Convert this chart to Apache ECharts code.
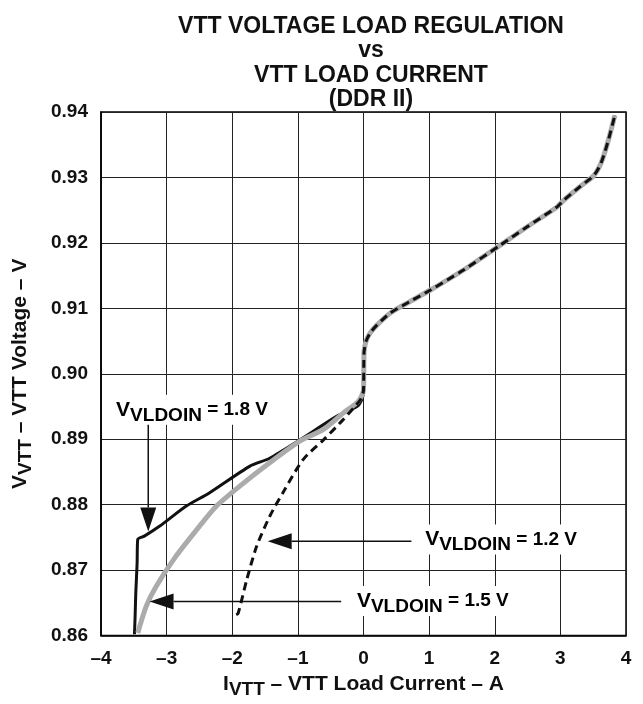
<!DOCTYPE html>
<html>
<head>
<meta charset="utf-8">
<script src="https://cdn.jsdelivr.net/npm/echarts@6/dist/echarts.min.js"></script>
<style>
  html, body { margin: 0; padding: 0; background: #fff; }
  #chart { width: 643px; height: 704px; }
</style>
</head>
<body>
<div id="chart"></div>
<script>
// values: load current (A) and VTT voltage (V)
// above 0 A the three supplies lie on the same trace
const rightCurrent = [0, 0.005, 0.01, 0.04, 0.1, 0.2, 0.41, 0.7, 1.02, 1.53, 2.09, 2.5, 2.95, 3.05, 3.3, 3.51, 3.62, 3.72, 3.83];
const rightVoltage = [0.8975, 0.902, 0.9035, 0.905, 0.9062, 0.9074, 0.9093, 0.911, 0.9128, 0.9159, 0.9197, 0.9225, 0.9255, 0.9265, 0.9286, 0.9303, 0.9322, 0.9353, 0.9395];

// VLDOIN = 1.8 V
const current18 = [-3.49, -3.48, -3.47, -3.45, -3.44, -3.34, -3.11, -2.7, -2.35, -1.73, -1.43, -0.97, -0.41, -0.1, -0.02];
const voltage18 = [0.8602, 0.863, 0.8665, 0.871, 0.8747, 0.8752, 0.8767, 0.8798, 0.8818, 0.8859, 0.8871, 0.8899, 0.8935, 0.895, 0.8962];

// VLDOIN = 1.5 V
const current15 = [-3.44, -3.31, -3.16, -2.86, -2.5, -2.24, -1.89, -1.43, -0.97, -0.61, -0.31, -0.08];
const voltage15 = [0.8604, 0.8645, 0.8675, 0.8721, 0.8767, 0.8798, 0.8828, 0.8864, 0.8897, 0.8915, 0.894, 0.8958];

// VLDOIN = 1.2 V
const current12 = [-1.94, -1.91, -1.78, -1.63, -1.43, -1.23, -0.92, -0.61, -0.31, -0.05];
const voltage12 = [0.8632, 0.8634, 0.8685, 0.8736, 0.8782, 0.8818, 0.8869, 0.8899, 0.893, 0.896];

const xTicks = [-4, -3, -2, -1, 0, 1, 2, 3, 4];
const xTickLabels = ['\u20134', '\u20133', '\u20132', '\u20131', '0', '1', '2', '3', '4'];
const yTicks = [0.86, 0.87, 0.88, 0.89, 0.90, 0.91, 0.92, 0.93, 0.94];
const yTickLabels = ['0.86', '0.87', '0.88', '0.89', '0.90', '0.91', '0.92', '0.93', '0.94'];

const supplyLabels = ['1.8 V', '1.2 V', '1.5 V'];

const FONT = '"Liberation Sans", Arial, sans-serif';

function pairs(xs, ys) {
  return xs.map((x, i) => [x, ys[i]]);
}
function tickText(ticks, labels, v) {
  let best = 0;
  ticks.forEach((t, i) => { if (Math.abs(t - v) < Math.abs(ticks[best] - v)) best = i; });
  return labels[best];
}
// V with a lowered subscript
function subRich(big, small) {
  return {
    m: { fontSize: big, fontWeight: 'bold', fontFamily: FONT, color: '#111', verticalAlign: 'middle' },
    s: { fontSize: small, fontWeight: 'bold', fontFamily: FONT, color: '#111', verticalAlign: 'middle', padding: [11, 0, 0, 0] },
    r: { fontSize: big, fontWeight: 'bold', fontFamily: FONT, color: '#111', verticalAlign: 'middle' },
    q: { fontSize: small, fontWeight: 'bold', fontFamily: FONT, color: '#111', verticalAlign: 'middle' }
  };
}

const chart = echarts.init(document.getElementById('chart'));

const option = {
  animation: false,
  backgroundColor: '#fff',
  title: {
    text: 'VTT VOLTAGE LOAD REGULATION\nvs\nVTT LOAD CURRENT\n(DDR II)',
    left: 366,
    textAlign: 'center',
    top: 9,
    textStyle: { fontSize: 23, fontWeight: 'bold', fontFamily: FONT, color: '#111', lineHeight: 24.5 }
  },
  grid: {
    left: 101, right: 17, top: 112, bottom: 68,
    show: true, borderColor: '#000', borderWidth: 1.5, backgroundColor: 'transparent'
  },
  xAxis: {
    type: 'value', min: -4, max: 4, interval: 1,
    name: '{m|I}{s|VTT}{r| \u2013 VTT Load Current \u2013 A}',
    nameLocation: 'middle', nameGap: 30,
    nameTextStyle: { rich: subRich(21, 19) },
    axisLine: { show: true, onZero: false, lineStyle: { color: '#000', width: 1.5 } },
    axisTick: { show: false },
    splitLine: { show: true, lineStyle: { color: '#222', width: 1 } },
    axisLabel: {
      margin: 14, fontSize: 19, fontWeight: 'bold', fontFamily: FONT, color: '#111',
      formatter: v => tickText(xTicks, xTickLabels, v)
    }
  },
  yAxis: {
    type: 'value', min: 0.86, max: 0.94, interval: 0.01,
    name: '{m|V}{s|VTT}{r| \u2013 VTT Voltage \u2013 V}',
    nameLocation: 'middle', nameGap: 66, nameRotate: 90,
    nameTextStyle: { rich: subRich(21, 19) },
    axisLine: { show: true, onZero: false, lineStyle: { color: '#000', width: 1.5 } },
    axisTick: { show: false },
    splitLine: { show: true, lineStyle: { color: '#222', width: 1 } },
    axisLabel: {
      margin: 13, fontSize: 19, fontWeight: 'bold', fontFamily: FONT, color: '#111',
      formatter: v => tickText(yTicks, yTickLabels, v)
    }
  },
  series: [
    {
      name: supplyLabels[0], type: 'line', symbol: 'none', z: 2, smooth: 0.25,
      data: pairs(current18.concat(rightCurrent), voltage18.concat(rightVoltage)),
      lineStyle: { color: '#111', width: 3 }
    },
    {
      name: supplyLabels[2], type: 'line', symbol: 'none', z: 3, smooth: 0.25,
      data: pairs(current15.concat(rightCurrent), voltage15.concat(rightVoltage)),
      lineStyle: { color: '#ababab', width: 5 }
    },
    {
      name: supplyLabels[1], type: 'line', symbol: 'none', z: 4, smooth: 0.25,
      data: pairs(current12.concat(rightCurrent), voltage12.concat(rightVoltage)),
      lineStyle: { color: '#111', width: 3, type: [8, 5] }
    }
  ]
};
chart.setOption(option);

// annotation layout, in axis units: where the label starts, where the arrow runs
const notes = [
  { label: supplyLabels[0], at: [-3.77, 0.8945], from: [-3.28, 0.8936], to: [-3.28, 0.8759] },
  { label: supplyLabels[1], at: [0.94, 0.8747], from: [0.73, 0.8744], to: [-1.46, 0.8744] },
  { label: supplyLabels[2], at: [-0.1, 0.8653], from: [-0.34, 0.8652], to: [-3.26, 0.8652] }
];

const px = p => chart.convertToPixel({ gridIndex: 0 }, p);
const graphics = [];
notes.forEach(n => {
  const a = px(n.from), b = px(n.to), t = px(n.at);
  const dx = b[0] - a[0], dy = b[1] - a[1];
  const len = Math.sqrt(dx * dx + dy * dy);
  const ux = dx / len, uy = dy / len;
  const headLen = 24, half = 8;
  const bx = b[0] - ux * headLen, by = b[1] - uy * headLen;
  graphics.push({
    type: 'line', z: 10,
    shape: { x1: a[0], y1: a[1], x2: bx, y2: by },
    style: { stroke: '#111', lineWidth: 1.5 }
  });
  graphics.push({
    type: 'polygon', z: 10,
    shape: { points: [[b[0], b[1]], [bx - uy * half, by + ux * half], [bx + uy * half, by - ux * half]] },
    style: { fill: '#111' }
  });
  graphics.push({
    type: 'text', z: 11, x: t[0] - 3, y: t[1],
    style: {
      text: '{m|V}{s|VLDOIN}{q| = ' + n.label + '}',
      rich: subRich(21, 19),
      verticalAlign: 'middle',
      align: 'left',
      backgroundColor: '#fff',
      padding: [0, 3, 0, 3]
    }
  });
});
chart.setOption({ graphic: graphics });
</script>
</body>
</html>
